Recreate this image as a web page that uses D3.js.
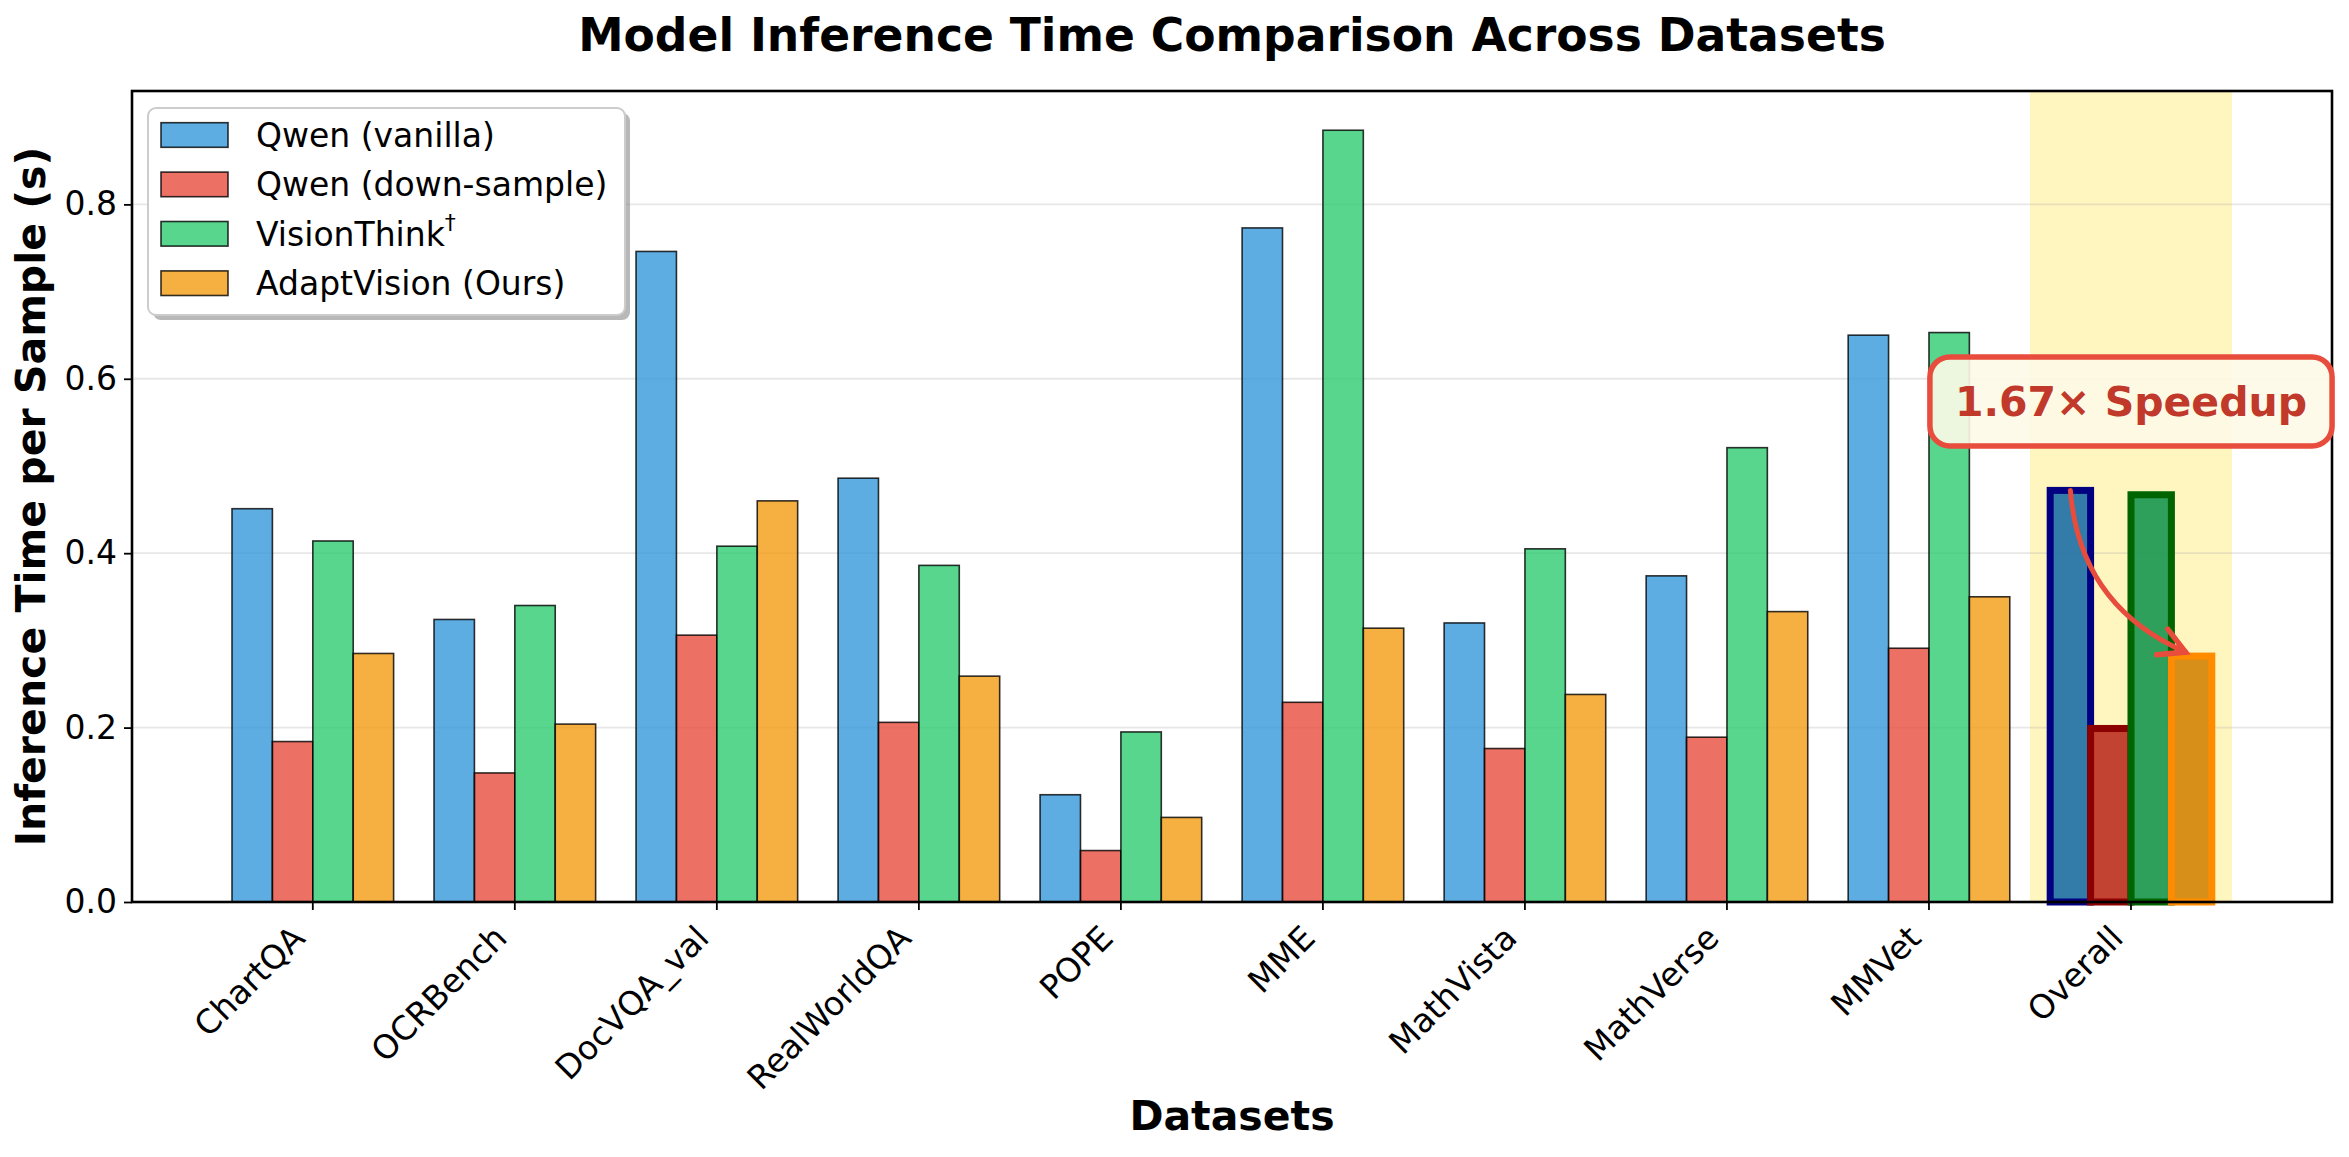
<!DOCTYPE html>
<html>
<head>
<meta charset="utf-8">
<script src="https://cdn.jsdelivr.net/npm/d3@7"></script>
<style>
  body { margin: 0; background: #ffffff; }
  svg { display: block; }
  text { font-family: "DejaVu Sans", sans-serif; }
</style>
</head>
<body>
<svg id="chart" width="2349" height="1157"></svg>
<script>
// ---------------- data ----------------
const categories = ["ChartQA", "OCRBench", "DocVQA_val", "RealWorldQA", "POPE", "MME", "MathVista", "MathVerse", "MMVet", "Overall"];
const seriesNames = ["Qwen (vanilla)", "Qwen (down-sample)", "VisionThink", "AdaptVision (Ours)"];
const qwenVanilla = [0.451, 0.324, 0.746, 0.486, 0.123, 0.773, 0.320, 0.374, 0.650, 0.472];
const qwenDownSample = [0.184, 0.148, 0.306, 0.206, 0.059, 0.229, 0.176, 0.189, 0.291, 0.199];
const visionThink = [0.414, 0.340, 0.408, 0.386, 0.195, 0.885, 0.405, 0.521, 0.653, 0.467];
const adaptVision = [0.285, 0.204, 0.460, 0.259, 0.097, 0.314, 0.238, 0.333, 0.350, 0.282];
const yTickValues = [0.0, 0.2, 0.4, 0.6, 0.8];
const highlightCategory = "Overall";
const speedupText = "1.67× Speedup";

// ---------------- styles ----------------
const seriesColors = ["#3498DB", "#E74C3C", "#2ECC71", "#F39C12"];
const overallFill = ["#2874A6", "#C0392B", "#239B56", "#D68910"];
const overallEdge = ["#000080", "#8B0000", "#006400", "#FF8C00"];

const W = 2349, H = 1157;
const L = 132, R = 2332, T = 91, B = 902;
const nSeries = 4, barW = 0.2;

const svg = d3.select("#chart");
svg.append("rect").attr("width", W).attr("height", H).attr("fill", "#fff");

const x = d3.scaleLinear().domain([-0.895, 9.995]).range([L, R]);
const y = d3.scaleLinear().domain([0, 0.93]).range([B, T]);

const seriesData = [qwenVanilla, qwenDownSample, visionThink, adaptVision];
const hiIdx = categories.indexOf(highlightCategory);

// highlight span
svg.append("rect")
  .attr("x", x(hiIdx - 0.5)).attr("y", T)
  .attr("width", x(hiIdx + 0.5) - x(hiIdx - 0.5)).attr("height", B - T)
  .attr("fill", "#FFD700").attr("fill-opacity", 0.25);

// grid
svg.append("g").selectAll("line").data(yTickValues.filter(v => v > 0)).join("line")
  .attr("x1", L).attr("x2", R)
  .attr("y1", d => y(d)).attr("y2", d => y(d))
  .attr("stroke", "#b0b0b0").attr("stroke-opacity", 0.3).attr("stroke-width", 1.8);

// bars
const barG = svg.append("g");
seriesData.forEach((vals, s) => {
  const off = (s - (nSeries - 1) / 2) * barW;
  vals.forEach((v, i) => {
    const x0 = x(i + off - barW / 2), x1 = x(i + off + barW / 2);
    if (i === hiIdx) {
      barG.append("rect")
        .attr("x", x0).attr("y", y(v)).attr("width", x1 - x0).attr("height", y(0) - y(v))
        .attr("fill", overallFill[s]).attr("fill-opacity", 0.95)
        .attr("stroke", overallEdge[s]).attr("stroke-width", 7);
    } else {
      barG.append("rect")
        .attr("x", x0).attr("y", y(v)).attr("width", x1 - x0).attr("height", y(0) - y(v))
        .attr("fill", seriesColors[s]).attr("fill-opacity", 0.8)
        .attr("stroke", "#000").attr("stroke-opacity", 0.8).attr("stroke-width", 1.6);
    }
  });
});

// axes frame
svg.append("rect").attr("x", L).attr("y", T).attr("width", R - L).attr("height", B - T)
  .attr("fill", "none").attr("stroke", "#000").attr("stroke-width", 2.6);

// y axis
const yAxis = d3.axisLeft(y).tickValues(yTickValues).tickFormat(d3.format(".1f")).tickSize(8).tickPadding(7);
const yg = svg.append("g").attr("transform", `translate(${L},0)`).call(yAxis);
yg.select(".domain").remove();
yg.selectAll(".tick line").attr("stroke", "#000").attr("stroke-width", 1.8);
yg.selectAll(".tick text").attr("font-size", 33).attr("fill", "#000")
  .style("font-family", '"DejaVu Sans", sans-serif');

// x axis
const xg = svg.append("g");
categories.forEach((c, i) => {
  xg.append("line").attr("x1", x(i)).attr("x2", x(i)).attr("y1", B).attr("y2", B + 8)
    .attr("stroke", "#000").attr("stroke-width", 1.8);
  const ax = x(i) - 6, ay = B + 38;
  xg.append("text").attr("x", ax).attr("y", ay)
    .attr("transform", `rotate(-45,${ax},${ay})`)
    .attr("text-anchor", "end").attr("font-size", 33).attr("fill", "#000").text(c);
});

// labels & title
svg.append("text").attr("x", (L + R) / 2).attr("y", 51).attr("text-anchor", "middle")
  .attr("font-size", 45.6).attr("font-weight", "bold").attr("fill", "#000")
  .text("Model Inference Time Comparison Across Datasets");
svg.append("text").attr("x", (L + R) / 2).attr("y", 1130).attr("text-anchor", "middle")
  .attr("font-size", 41).attr("font-weight", "bold").attr("fill", "#000").text("Datasets");
svg.append("text").attr("transform", `translate(45,${(T + B) / 2}) rotate(-90)`)
  .attr("text-anchor", "middle").attr("font-size", 41).attr("font-weight", "bold").attr("fill", "#000")
  .text("Inference Time per Sample (s)");

// legend
const lg = svg.append("g");
const lx = 148, ly = 108, lw = 477, lh = 207;
lg.append("rect").attr("x", lx + 5).attr("y", ly + 5).attr("width", lw).attr("height", lh)
  .attr("rx", 8).attr("fill", "#888").attr("fill-opacity", 0.6);
lg.append("rect").attr("x", lx).attr("y", ly).attr("width", lw).attr("height", lh)
  .attr("rx", 8).attr("fill", "#fff").attr("stroke", "#cccccc").attr("stroke-width", 2);
seriesNames.forEach((n, s) => {
  const cy = 135 + s * 49.4;
  lg.append("rect").attr("x", 161).attr("y", cy - 12.3).attr("width", 67).attr("height", 24.6)
    .attr("fill", seriesColors[s]).attr("fill-opacity", 0.8)
    .attr("stroke", "#000").attr("stroke-opacity", 0.8).attr("stroke-width", 1.6);
  const t = lg.append("text").attr("x", 256).attr("y", cy).attr("dy", "0.36em")
    .attr("font-size", 33).attr("fill", "#000");
  t.append("tspan").text(n);
  if (s === 2) {
    t.append("tspan").attr("font-size", 22).attr("dy", "-0.7em").text("†");
  }
});

// arrow (arc3, rad=0.3)
const A = [x(hiIdx - 0.3), y(qwenVanilla[hiIdx])];
const Bp = [x(hiIdx + 0.27), y(adaptVision[hiIdx]) - 4];
const dx = Bp[0] - A[0], dy = Bp[1] - A[1], rad = 0.3;
const C = [(A[0] + Bp[0]) / 2 - rad * dy, (A[1] + Bp[1]) / 2 + rad * dx];
const arrowColor = "#E74C3C";
svg.append("path")
  .attr("d", `M${A[0]},${A[1]} Q${C[0]},${C[1]} ${Bp[0]},${Bp[1]}`)
  .attr("fill", "none").attr("stroke", arrowColor).attr("stroke-width", 5).attr("stroke-linecap", "round");
const ang = Math.atan2(Bp[1] - C[1], Bp[0] - C[0]) + Math.PI;
const armL = 29, spread = 0.5;
const p1 = [Bp[0] + armL * Math.cos(ang - spread), Bp[1] + armL * Math.sin(ang - spread)];
const p2 = [Bp[0] + armL * Math.cos(ang + spread), Bp[1] + armL * Math.sin(ang + spread)];
svg.append("path")
  .attr("d", `M${p1[0]},${p1[1]} L${Bp[0]},${Bp[1]} L${p2[0]},${p2[1]}`)
  .attr("fill", "none").attr("stroke", arrowColor).attr("stroke-width", 5.5)
  .attr("stroke-linecap", "round").attr("stroke-linejoin", "miter");

// speedup box
const sg = svg.append("g");
const tx = x(hiIdx), ty = y(0.574);
const box = sg.append("rect");
const st = sg.append("text").attr("x", tx).attr("y", ty).attr("dy", "0.36em")
  .attr("text-anchor", "middle").attr("font-size", 41).attr("font-weight", "bold")
  .attr("fill", "#C0392B").text(speedupText);
const bb = st.node().getBBox();
const pad = 25;
box.attr("x", bb.x - pad).attr("y", ty - 44.5).attr("width", bb.width + 2 * pad).attr("height", 89)
  .attr("rx", 20).attr("fill", "#FEF9E7").attr("fill-opacity", 0.9)
  .attr("stroke", arrowColor).attr("stroke-width", 5.5);
</script>
</body>
</html>
